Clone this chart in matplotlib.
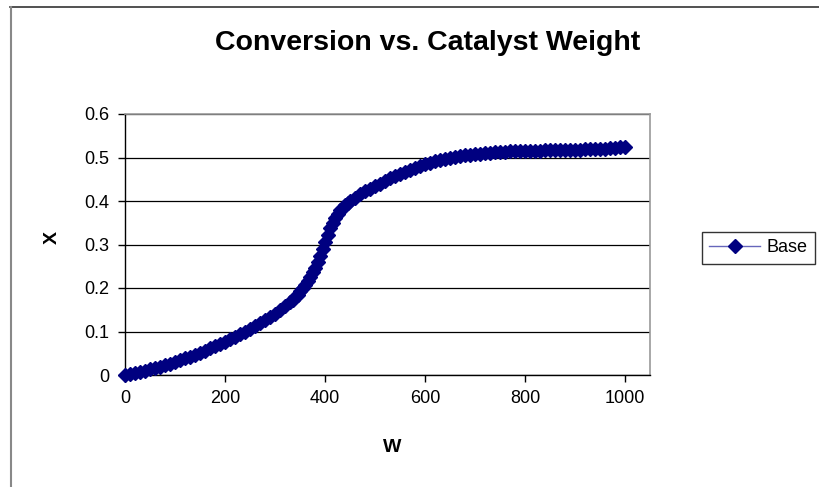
import matplotlib
matplotlib.use("Agg")
import matplotlib.pyplot as plt
from matplotlib.lines import Line2D

plt.rcParams["font.family"] = ["Liberation Sans", "DejaVu Sans"]

# catalyst weight W and conversion X
# (steps of 10, with extra points where the curve is steep)
W = [
    0, 10, 20, 30, 40, 50, 60, 70, 80, 90,
    100, 110, 120, 130, 140, 150, 160, 170, 180, 190,
    200, 210, 220, 230, 240, 250, 260, 270, 280, 290,
    300, 310, 320, 330, 335, 340, 345, 350, 355, 360,
    365, 370, 375, 380, 385, 390, 395, 400, 405, 410,
    415, 420, 425, 430, 435, 440, 445, 450, 460, 470,
    480, 490, 500, 510, 520, 530, 540, 550, 560, 570,
    580, 590, 600, 610, 620, 630, 640, 650, 660, 670,
    680, 690, 700, 710, 720, 730, 740, 750, 760, 770,
    780, 790, 800, 810, 820, 830, 840, 850, 860, 870,
    880, 890, 900, 910, 920, 930, 940, 950, 960, 970,
    980, 990, 1000,
]
X = [
    0.000, 0.002, 0.005, 0.007, 0.010, 0.013, 0.016, 0.019, 0.022, 0.026,
    0.030, 0.034, 0.038, 0.042, 0.047, 0.051, 0.056, 0.061, 0.066, 0.071,
    0.077, 0.082, 0.088, 0.094, 0.100, 0.106, 0.112, 0.119, 0.126, 0.133,
    0.141, 0.149, 0.158, 0.168, 0.173, 0.179, 0.185, 0.192, 0.199, 0.207,
    0.216, 0.225, 0.236, 0.247, 0.260, 0.274, 0.289, 0.305, 0.321, 0.337,
    0.350, 0.362, 0.371, 0.379, 0.385, 0.391, 0.396, 0.400, 0.408, 0.415,
    0.422, 0.428, 0.434, 0.440, 0.446, 0.452, 0.457, 0.462, 0.467, 0.472,
    0.477, 0.481, 0.485, 0.488, 0.491, 0.494, 0.497, 0.499, 0.501, 0.503,
    0.505, 0.506, 0.508, 0.509, 0.510, 0.511, 0.512, 0.513, 0.513, 0.514,
    0.514, 0.515, 0.515, 0.516, 0.516, 0.516, 0.517, 0.517, 0.517, 0.517,
    0.518, 0.518, 0.518, 0.518, 0.519, 0.519, 0.519, 0.520, 0.520, 0.521,
    0.522, 0.523, 0.523,
]
X_TICKS = [0, 200, 400, 600, 800, 1000]
Y_TICKS = [0, 0.1, 0.2, 0.3, 0.4, 0.5, 0.6]
Y_LABELS = ["0", "0.1", "0.2", "0.3", "0.4", "0.5", "0.6"]

NAVY = "#000080"

fig = plt.figure(figsize=(8.19, 4.87), dpi=100)
ax = fig.add_axes([125 / 819, 1 - 375 / 487, 525 / 819, 261 / 487])

ax.plot(W, X, color=NAVY, lw=1.0, marker="D", ms=7, mec=NAVY, mfc=NAVY,
        label="Base", zorder=5, clip_on=False)

ax.set_xlim(0, 1050)
ax.set_ylim(0, 0.6)
ax.set_xticks(X_TICKS)
ax.set_yticks(Y_TICKS)
ax.set_yticklabels(Y_LABELS)
ax.tick_params(axis="both", labelsize=13, direction="out", length=5,
               width=1, color="black", pad=6)
ax.yaxis.grid(True, color="black", lw=0.9)
ax.set_axisbelow(True)
for s in ["top", "right"]:
    ax.spines[s].set_color("#999999")
    ax.spines[s].set_linewidth(1.2)
for s in ["left", "bottom"]:
    ax.spines[s].set_color("black")
    ax.spines[s].set_linewidth(1.0)

fig.text(428 / 819, 1 - 43 / 487, "Conversion vs. Catalyst Weight",
         ha="center", va="center", fontsize=20.5, fontweight="bold")
fig.text(392 / 819, 1 - 447 / 487, "W", ha="center", va="center",
         fontsize=14, fontweight="bold")
fig.text(52 / 819, 1 - 238 / 487, "X", ha="center", va="center",
         fontsize=14, fontweight="bold", rotation=90)

leg = ax.legend(loc="center left", bbox_to_anchor=(702 / 819, 1 - 248 / 487),
                bbox_transform=fig.transFigure, fontsize=13, frameon=True,
                fancybox=False, edgecolor="black", handlelength=2.8,
                borderpad=0.4, handletextpad=0.4, borderaxespad=0)
leg.get_frame().set_linewidth(1.0)
leg.get_lines()[0].set_color("#6666bb")

# outer chart frame
fig.add_artist(Line2D([10 / 819, 1], [1 - 7 / 487, 1 - 7 / 487],
                      transform=fig.transFigure, color="#333333", lw=1.2))
fig.add_artist(Line2D([11 / 819, 11 / 819], [0, 1 - 7 / 487],
                      transform=fig.transFigure, color="#888888", lw=1.5))

fig.savefig("out.png", dpi=100)
